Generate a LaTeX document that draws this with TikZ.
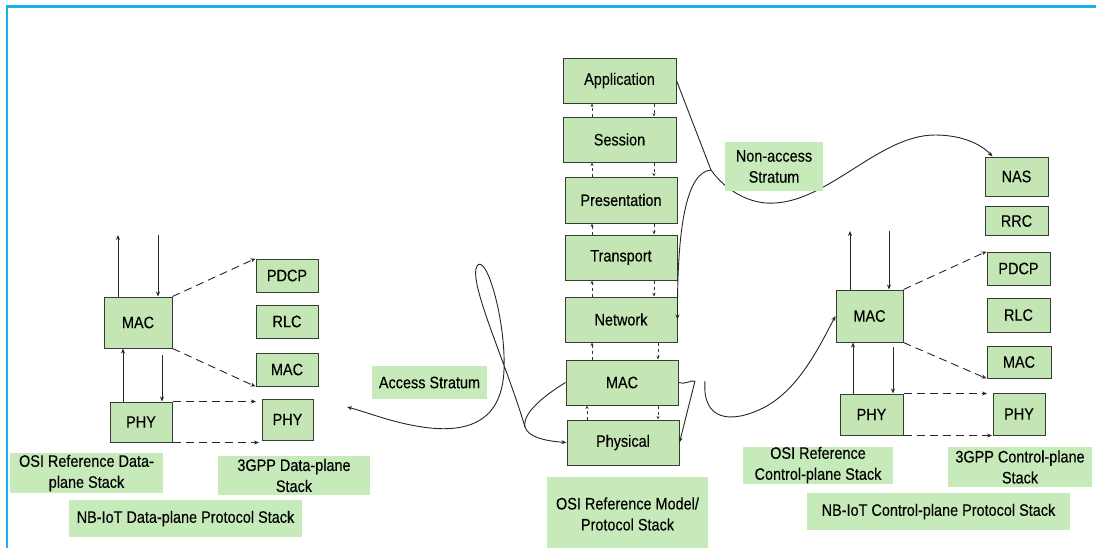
\documentclass[tikz,border=0pt]{standalone}
\usepackage{fontspec}
\setmainfont[FakeStretch=0.87,FakeBold=0.25]{Liberation Sans}
\usetikzlibrary{arrows.meta}

\definecolor{boxgreen}{RGB}{196,230,180}
\definecolor{taggreen}{RGB}{198,234,186}
\definecolor{edgegray}{RGB}{55,60,55}
\definecolor{framecyan}{RGB}{22,178,236}

\newcommand\diagfont{\fontsize{16.6}{21}\selectfont}

\tikzset{
  layer/.style={draw=edgegray, line width=1pt, fill=boxgreen, inner sep=0pt,
                align=center, font=\diagfont},
  tag/.style={fill=taggreen, inner sep=0pt, align=center, font=\diagfont},
  link/.style={draw=black!85, line width=0.9pt},
  tip/.style={-{Stealth[length=5pt,width=4pt]}},
  dlink/.style={link, dash pattern=on 8pt off 5pt},
  tinyarrow/.style={draw=black!80, line width=0.7pt, dash pattern=on 3pt off 3pt,
                    -{Stealth[length=3.5pt,width=3pt]}},
}

\begin{document}
\begin{tikzpicture}[x=1pt,y=-1pt]
\useasboundingbox (0,0) rectangle (1096,547);

% outer frame
\draw[framecyan, line width=2.2pt] (7,550) -- (7,6.5) -- (1100,6.5);

% ---------------- data-plane stack (left) ----------------
\node[layer, minimum width=68pt, minimum height=51pt] (lmac) at (138,322.5) {MAC};
\node[layer, minimum width=62pt, minimum height=40pt] (lphy) at (141,422) {PHY};
\node[layer, minimum width=62pt, minimum height=33pt] (lpdcp) at (287,275.5) {PDCP};
\node[layer, minimum width=62pt, minimum height=33pt] (lrlc) at (287,321.5) {RLC};
\node[layer, minimum width=62pt, minimum height=33pt] (lmacb) at (287,369.5) {MAC};
\node[layer, minimum width=51pt, minimum height=41pt] (lphyb) at (287.5,419.5) {PHY};

\node[tag, minimum width=153pt, minimum height=40pt] (losi) at (86.5,473) {OSI Reference Data-\\plane Stack};
\node[tag, minimum width=152pt, minimum height=39pt] (l3gpp) at (294,475.5) {3GPP Data-plane\\Stack};
\node[tag, minimum width=233pt, minimum height=37pt] (lnb) at (185.5,518.5) {NB-IoT Data-plane Protocol Stack};

\coordinate (lin) at (158,235);
\coordinate (lout) at (118,235);
\draw[link,tip] (118,0 |- lmac.north) -- (lout);
\draw[link,tip] (lin) -- (158,0 |- lmac.north);
\draw[link,tip] (123,0 |- lphy.north) -- (123,0 |- lmac.south);
\draw[link,tip] (162,355) -- (162,0 |- lphy.north);

\draw[dlink,tip] (lmac.north east) -- (lpdcp.north west);
\draw[dlink,tip] (lmac.south east) -- (lmacb.south west);
\draw[dlink,tip] (lphy.north east) -- (256,0 |- lphy.north);
\draw[dlink,tip] (lphy.south east) -- (259,0 |- lphy.south);

% ---------------- OSI reference model (centre) ----------------
\node[layer, minimum width=113pt, minimum height=45pt] (app) at (619.5,80.5) {Application};
\node[layer, minimum width=113pt, minimum height=45pt] (ses) at (619.5,139.5) {Session};
\node[layer, minimum width=112pt, minimum height=46pt] (pres) at (621,200) {Presentation};
\node[layer, minimum width=112pt, minimum height=45pt] (trans) at (621,257.5) {Transport};
\node[layer, minimum width=112pt, minimum height=45pt] (net) at (621,319.5) {Network};
\node[layer, minimum width=112pt, minimum height=45pt] (cmac) at (622,382.5) {MAC};
\node[layer, minimum width=112pt, minimum height=45pt] (cphys) at (623,442.5) {Physical};

\node[tag, minimum width=161pt, minimum height=74pt] (osim) at (627.5,514) {OSI Reference Model/\\Protocol Stack};

\foreach \up/\lo in {app/ses, ses/pres, pres/trans, trans/net}{
  \draw[tinyarrow] (592,0 |- \lo.north) -- (592,0 |- \up.south);
  \draw[tinyarrow] (654,0 |- \up.south) -- (654,0 |- \lo.north);
}
\draw[tinyarrow] (592,0 |- cmac.north) -- (592,0 |- net.south);
\draw[tinyarrow] (658,0 |- net.south) -- (658,0 |- cmac.north);
\draw[tinyarrow] (587,0 |- cphys.north) -- (587,0 |- cmac.south);
\draw[tinyarrow] (658,0 |- cmac.south) -- (658,0 |- cphys.north);

% access stratum brace with its looping lead
\coordinate (aj) at (525,427);
\coordinate (aend) at (347,407);
\draw[link] (cmac.west) .. controls (545,395) and (522,413) .. (aj);
\draw[link,tip] (aj) .. controls (528,437) and (545,441) .. (cphys.west);
\draw[link,tip] (aj) .. controls (505,360) and (468,282) .. (477,266)
      .. controls (486,252) and (506,320) .. (504,370)
      .. controls (502,420) and (470,432) .. (430,428)
      .. controls (395,424) and (370,413) .. (aend);
\node[tag, minimum width=115pt, minimum height=33pt] (acc) at (429.5,382.5) {Access Stratum};

% ---------------- control-plane stack (right) ----------------
\node[layer, minimum width=63pt, minimum height=39pt] (nas) at (1016.5,176.5) {NAS};
\node[layer, minimum width=63pt, minimum height=29pt] (rrc) at (1016.5,221) {RRC};
\node[layer, minimum width=63pt, minimum height=33pt] (rpdcp) at (1018.5,268.5) {PDCP};
\node[layer, minimum width=63pt, minimum height=34pt] (rrlc) at (1018.5,315) {RLC};
\node[layer, minimum width=64pt, minimum height=32pt] (rmacb) at (1019,362) {MAC};
\node[layer, minimum width=52pt, minimum height=42pt] (rphyb) at (1019,414) {PHY};
\node[layer, minimum width=67pt, minimum height=52pt] (rmac) at (869.5,316) {MAC};
\node[layer, minimum width=63pt, minimum height=41pt] (rphy) at (871.5,414.5) {PHY};

\node[tag, minimum width=150pt, minimum height=37pt] (rosi) at (818,465) {OSI Reference\\Control-plane Stack};
\node[tag, minimum width=144pt, minimum height=40pt] (r3gpp) at (1020,467) {3GPP Control-plane\\Stack};
\node[tag, minimum width=263pt, minimum height=37pt] (rnb) at (938.5,511.5) {NB-IoT Control-plane Protocol Stack};

\coordinate (rin) at (889,231);
\coordinate (rout) at (850,231);
\draw[link,tip] (850,0 |- rmac.north) -- (rout);
\draw[link,tip] (rin) -- (889,0 |- rmac.north);
\draw[link,tip] (853,0 |- rphy.north) -- (853,0 |- rmac.south);
\draw[link,tip] (893,347) -- (893,0 |- rphy.north);

\draw[dlink,tip] (rmac.north east) -- (rpdcp.north west);
\draw[dlink,tip] (rmac.south east) -- (rmacb.south west);
\draw[dlink,tip] (rphy.north east) -- (987,0 |- rphy.north);
\draw[dlink,tip] (rphy.south east) -- (992,0 |- rphy.south);

% lower brace: MAC/Physical towards the control-plane MAC
\coordinate (bj) at (695,381);
\coordinate (bs) at (705,381);
\draw[link] (cmac.east) .. controls (685,385) and (690,380) .. (bj);
\draw[link,tip] (bj) -- (cphys.east);
\draw[link,tip] (bs) .. controls (702,420) and (730,425) .. (765,407)
      .. controls (800,388) and (820,345) .. (rmac.west);

% non-access stratum brace: Application..Network towards NAS
\coordinate (nj) at (711,170);
\draw[link] (app.east) -- (nj);
\draw[link,tip] (nj) .. controls (688,172) and (677,220) .. (net.east);
\draw[link,tip] (nj) .. controls (725,190) and (750,205) .. (775,203)
      .. controls (830,200) and (880,135) .. (935,135)
      .. controls (960,135) and (980,143) .. ([xshift=8pt]nas.north west);
\node[tag, minimum width=98pt, minimum height=49pt] (nacc) at (774,166.5) {Non-access\\Stratum};

\end{tikzpicture}
\end{document}
